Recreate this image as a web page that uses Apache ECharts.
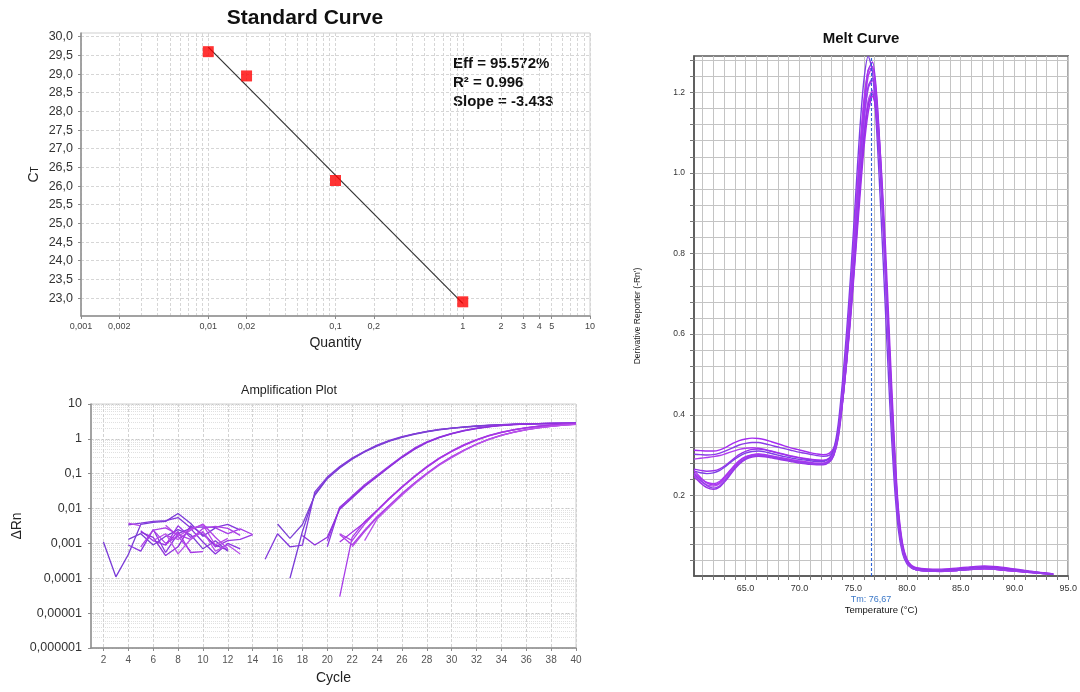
<!DOCTYPE html>
<html><head><meta charset="utf-8">
<script src="https://cdn.jsdelivr.net/npm/echarts@6/dist/echarts.min.js"></script>
<style>html,body{margin:0;padding:0;background:#fff}#c{width:1080px;height:692px}</style>
</head><body><div id="c"></div>
<script>
// ---------- Standard curve ----------
const stdQuantity = [0.01, 0.02, 0.1, 1];
const stdCt = [29.6, 28.95, 26.15, 22.9];
const fitQuantity = [0.01, 1];
const fitCt = [29.72, 22.86];
const stdXLabels = [0.001, 0.002, 0.01, 0.02, 0.1, 0.2, 1, 2, 3, 4, 5, 10];
const stdYLabels = [23, 23.5, 24, 24.5, 25, 25.5, 26, 26.5, 27, 27.5, 28, 28.5, 29, 29.5, 30];
const statsText = ['Eff = 95.572%', 'R\u00b2 = 0.996', 'Slope = -3.433'];

// ---------- Amplification plot ----------
const cycles = [2,3,4,5,6,7,8,9,10,11,12,13,14,15,16,17,18,19,20,21,22,23,24,25,26,27,28,29,30,31,32,33,34,35,36,37,38,39,40];
const ampA1 = [0.0011,0.00011,0.00048,0.0035,0.004,0.0043,0.0072,0.0038,0.0016,0.0028,null,null,null,null,null,
  0.0001,0.0022,0.026,0.075,0.15,0.27,0.43,0.64,0.88,1.13,1.38,1.62,1.84,2.02,2.18,2.32,2.44,2.54,2.62,2.68,2.73,2.76,2.78,2.8];
const ampA2 = [null,null,0.0034,0.0038,0.0043,0.0045,0.0055,0.0028,0.003,0.0029,0.0035,0.0024,null,0.00035,0.0019,
  0.0008,0.0009,0.03,0.08,0.16,0.28,0.44,0.66,0.9,1.15,1.4,1.64,1.86,2.04,2.2,2.34,2.46,2.56,2.63,2.69,2.74,2.77,2.79,2.81];
const ampA3 = [null,null,0.0013,0.0019,0.0009,0.0016,0.0025,0.0018,0.0007,0.0012,0.0006,null,null,null,0.0036,
  0.0014,0.0035,0.024,0.072,0.145,0.26,0.42,0.62,0.86,1.1,1.35,1.6,1.82,2.0,2.16,2.3,2.43,2.53,2.61,2.67,2.72,2.75,2.78,2.8];
const ampB1 = [null,null,0.0009,0.0006,0.0025,0.00055,0.0019,0.0027,0.0011,0.0005,0.001,0.0007,null,null,null,
  null,null,null,0.0008,0.011,0.022,0.045,0.085,0.16,0.3,0.52,0.8,1.1,1.42,1.72,2.0,2.25,2.44,2.58,2.67,2.73,2.77,2.8,2.82];
const ampB2 = [null,null,null,0.0023,0.0012,0.0009,0.0032,0.0015,0.0021,0.0008,0.0012,0.0013,0.0018,null,null,
  null,null,null,0.0012,0.0105,0.023,0.048,0.09,0.17,0.31,0.54,0.82,1.12,1.44,1.74,2.02,2.26,2.45,2.59,2.68,2.74,2.78,2.8,2.82];
const ampB3 = [null,null,null,0.0021,0.0015,0.00045,0.0008,0.0032,0.0018,0.0009,0.00065,null,null,null,null,
  null,0.0017,0.0009,0.0015,0.0095,0.02,0.043,0.082,0.155,0.29,0.5,0.78,1.08,1.4,1.7,1.98,2.22,2.42,2.56,2.66,2.72,2.76,2.79,2.81];
const ampC1 = [null,null,null,null,0.0024,0.001,0.0016,0.0006,null,0.0028,0.0019,0.0026,0.0018,null,null,
  null,null,null,null,0.00003,0.0015,0.0042,0.009,0.02,0.042,0.085,0.16,0.28,0.45,0.68,0.95,1.25,1.55,1.84,2.1,2.32,2.5,2.64,2.75];
const ampC2 = [null,null,null,null,null,0.0017,0.0013,0.0024,0.0036,0.0015,0.0007,null,null,null,null,
  null,null,null,null,0.0019,0.0012,0.0036,0.0085,0.019,0.04,0.08,0.15,0.27,0.43,0.65,0.92,1.22,1.52,1.8,2.06,2.29,2.48,2.62,2.74];
const ampC3 = [null,null,null,null,null,0.0009,0.0022,0.00055,0.00058,null,null,null,null,null,null,
  null,null,null,null,0.0011,0.0021,0.004,0.0088,0.0195,0.041,0.082,0.155,0.275,0.44,0.66,0.93,1.23,1.53,1.82,2.08,2.3,2.49,2.63,2.74];
const ampD1 = [null,null,0.0038,0.0032,null,0.0033,0.0016,0.0026,0.0034,0.0009,0.0014,null,null,null,null,
  null,null,null,null,null,0.0008,0.0022,0.0055,0.012,0.026,0.052,0.1,0.18,0.3,0.47,0.7,0.97,1.26,1.55,1.83,2.08,2.3,2.48,2.62];
const ampD2 = [null,null,null,0.0008,0.0024,0.0028,0.0018,0.0013,0.0027,0.0031,0.0027,0.0017,null,null,null,
  null,null,null,null,0.0018,0.0009,0.0024,0.0058,0.0125,0.027,0.054,0.103,0.185,0.31,0.48,0.71,0.98,1.27,1.56,1.84,2.09,2.31,2.49,2.63];
const ampD3 = [null,null,null,null,0.0012,0.0019,0.0005,0.0013,0.0022,0.0006,0.0009,0.0005,null,null,null,
  null,null,null,null,null,null,0.0012,0.005,0.011,0.024,0.05,0.097,0.175,0.29,0.46,0.69,0.96,1.25,1.54,1.82,2.07,2.29,2.47,2.61];
const ampXLabels = [2,4,6,8,10,12,14,16,18,20,22,24,26,28,30,32,34,36,38,40];
const ampYLabels = [0.000001, 0.00001, 0.0001, 0.001, 0.01, 0.1, 1, 10];

// ---------- Melt curve ----------
const meltTemp = [60.2,60.8,61.4,62.0,62.6,63.2,63.8,64.4,65.0,65.6,66.2,66.8,67.4,68.0,68.6,69.2,69.8,70.4,71.0,71.6,72.2,
  72.8,73.2,73.6,74.0,74.4,74.8,75.2,75.6,76.0,76.4,76.8,77.2,77.6,78.0,78.4,78.8,79.2,79.6,80.0,80.4,80.8,
  81.6,82.4,83.2,84.0,84.8,85.6,86.4,87.2,88.0,88.8,89.6,90.4,91.2,92.0,92.8,93.6];
const melt1 = [0.312,0.311,0.31,0.31,0.313,0.32,0.329,0.336,0.34,0.342,0.341,0.338,0.333,0.328,0.323,0.318,0.314,0.31,0.306,0.303,0.301,
  0.305,0.318,0.355,0.43,0.53,0.65,0.79,0.93,1.06,1.15,1.19,1.15,1.02,0.82,0.58,0.35,0.17,0.08,0.042,0.027,0.021,
  0.018,0.017,0.017,0.018,0.02,0.022,0.024,0.025,0.024,0.022,0.019,0.016,0.013,0.01,0.008,0.005];
const melt2 = [0.302,0.301,0.3,0.301,0.305,0.311,0.318,0.325,0.329,0.331,0.331,0.328,0.324,0.32,0.316,0.312,0.308,0.305,0.302,0.299,0.297,
  0.3,0.314,0.352,0.43,0.535,0.66,0.8,0.95,1.08,1.17,1.2,1.14,0.99,0.78,0.54,0.32,0.155,0.072,0.038,0.024,0.019,
  0.016,0.015,0.015,0.016,0.018,0.02,0.022,0.023,0.022,0.02,0.017,0.015,0.012,0.01,0.007,0.005];
const melt3 = [0.29,0.292,0.294,0.296,0.299,0.304,0.309,0.314,0.317,0.318,0.317,0.314,0.31,0.306,0.302,0.298,0.295,0.292,0.29,0.288,0.287,
  0.293,0.31,0.355,0.445,0.56,0.7,0.86,1.02,1.15,1.24,1.264,1.18,1.0,0.77,0.52,0.3,0.14,0.065,0.034,0.021,0.016,
  0.013,0.012,0.012,0.013,0.014,0.016,0.017,0.018,0.017,0.015,0.013,0.012,0.01,0.008,0.006,0.004];
const melt4 = [0.265,0.262,0.26,0.261,0.266,0.276,0.289,0.301,0.309,0.314,0.315,0.313,0.309,0.305,0.301,0.297,0.294,0.291,0.289,0.287,0.286,
  0.292,0.31,0.36,0.455,0.575,0.72,0.88,1.04,1.17,1.255,1.275,1.19,1.01,0.78,0.53,0.3,0.145,0.067,0.035,0.022,0.017,
  0.014,0.013,0.013,0.014,0.015,0.017,0.019,0.02,0.019,0.017,0.015,0.013,0.011,0.009,0.007,0.005];
const melt5 = [0.26,0.256,0.254,0.256,0.262,0.273,0.286,0.297,0.305,0.309,0.31,0.308,0.304,0.3,0.296,0.293,0.29,0.288,0.286,0.284,0.284,
  0.292,0.315,0.375,0.48,0.61,0.76,0.93,1.1,1.23,1.289,1.25,1.1,0.89,0.66,0.43,0.24,0.115,0.055,0.03,0.02,0.016,
  0.013,0.012,0.012,0.013,0.014,0.016,0.018,0.019,0.018,0.016,0.014,0.012,0.01,0.008,0.006,0.004];
const melt6 = [0.256,0.242,0.232,0.229,0.235,0.251,0.27,0.286,0.296,0.301,0.303,0.301,0.298,0.295,0.292,0.289,0.286,0.284,0.282,0.28,0.28,
  0.288,0.306,0.352,0.445,0.56,0.695,0.85,1.0,1.13,1.21,1.23,1.15,0.98,0.76,0.52,0.29,0.14,0.064,0.034,0.021,0.016,
  0.013,0.012,0.012,0.013,0.014,0.016,0.017,0.018,0.017,0.015,0.013,0.011,0.009,0.008,0.006,0.004];
const melt7 = [0.25,0.236,0.226,0.223,0.229,0.245,0.265,0.282,0.292,0.298,0.3,0.298,0.295,0.292,0.289,0.286,0.283,0.281,0.279,0.277,0.277,
  0.284,0.3,0.343,0.43,0.54,0.67,0.82,0.97,1.1,1.18,1.205,1.13,0.97,0.76,0.53,0.31,0.15,0.07,0.037,0.023,0.017,
  0.014,0.013,0.012,0.013,0.015,0.017,0.019,0.021,0.02,0.018,0.015,0.013,0.011,0.009,0.006,0.004];
const melt8 = [0.246,0.231,0.219,0.215,0.221,0.238,0.259,0.277,0.289,0.295,0.297,0.296,0.293,0.29,0.287,0.284,0.281,0.279,0.277,0.276,0.276,
  0.283,0.299,0.34,0.425,0.535,0.665,0.81,0.96,1.09,1.17,1.195,1.13,0.98,0.78,0.55,0.33,0.16,0.075,0.039,0.024,0.018,
  0.015,0.014,0.013,0.014,0.016,0.018,0.02,0.022,0.021,0.019,0.016,0.014,0.011,0.009,0.007,0.004];
const melt9 = [0.262,0.245,0.231,0.226,0.232,0.249,0.268,0.285,0.295,0.3,0.302,0.3,0.297,0.294,0.291,0.288,0.285,0.283,0.281,0.279,0.279,
  0.287,0.304,0.355,0.455,0.58,0.725,0.89,1.05,1.18,1.255,1.26,1.16,0.97,0.74,0.5,0.28,0.135,0.062,0.033,0.021,0.016,
  0.013,0.012,0.011,0.012,0.014,0.016,0.017,0.018,0.017,0.015,0.013,0.011,0.009,0.007,0.006,0.004];
const melt10 = [0.253,0.238,0.224,0.218,0.224,0.241,0.262,0.28,0.291,0.297,0.299,0.298,0.295,0.292,0.289,0.286,0.283,0.281,0.279,0.278,0.278,
  0.285,0.302,0.348,0.44,0.555,0.69,0.845,1.0,1.13,1.215,1.235,1.15,0.975,0.75,0.51,0.29,0.14,0.065,0.034,0.022,0.016,
  0.013,0.012,0.012,0.013,0.014,0.016,0.018,0.019,0.018,0.016,0.014,0.012,0.01,0.008,0.006,0.004];
const meltXLabels = [65, 70, 75, 80, 85, 90, 95];
const meltYLabels = [0.2, 0.4, 0.6, 0.8, 1.0, 1.2];
const tmValue = 76.67;
const tmLabel = 'Tm: 76,67';

// ---------- helpers for grid/tick positions ----------
function logMinor(fromExp, toExp) {
  const out = [];
  for (let e = fromExp; e < toExp; e++) for (let k = 1; k <= 9; k++) out.push(+(k * Math.pow(10, e)).toPrecision(6));
  out.push(+Math.pow(10, toExp).toPrecision(6));
  return out;
}
function stepList(a, b, s) { const o = []; for (let v = a; v <= b + 1e-9; v += s) o.push(+v.toFixed(4)); return o; }
const comma = v => String(+(+v).toPrecision(6)).replace('.', ',');

const FONT = "'Liberation Sans', Arial, sans-serif";
const ampColors = ['#7a3ad8','#8338dc','#7c40d4','#8a36e0','#9a3ae4','#8e30dc','#a83ce8','#b044e6','#a535e4','#b74ae8','#ad3fe6','#b952ea'];
const ampCurves = [ampA1, ampA2, ampA3, ampB1, ampB2, ampB3, ampC1, ampC2, ampC3, ampD1, ampD2, ampD3];
const meltColors = ['#a52cf0','#8b3ae8','#b03cf0','#9a30ec','#7e3fe6','#a83af2','#b548f0','#9b2fe8','#ac36ee','#9440ea'];
const meltCurves = [melt1, melt2, melt3, melt4, melt5, melt6, melt7, melt8, melt9, melt10];

const series = [];
series.push({ type: 'line', xAxisIndex: 0, yAxisIndex: 0, data: fitQuantity.map((q, i) => [q, fitCt[i]]),
  symbol: 'none', lineStyle: { color: '#333', width: 1.2 }, silent: true, z: 3 });
series.push({ type: 'scatter', xAxisIndex: 0, yAxisIndex: 0, data: stdQuantity.map((q, i) => [q, stdCt[i]]),
  symbol: 'rect', symbolSize: 11, itemStyle: { color: '#ff0000' }, z: 4 });
ampCurves.forEach((arr, k) => {
  series.push({ type: 'line', xAxisIndex: 2, yAxisIndex: 1, symbol: 'none', silent: true,
    data: cycles.map((c, i) => [c, arr[i] == null ? '-' : arr[i]]),
    lineStyle: { color: ampColors[k], width: 1.3 } });
});
meltCurves.forEach((arr, k) => {
  series.push({ type: 'line', xAxisIndex: 3, yAxisIndex: 3, symbol: 'none', silent: true, smooth: 0.25,
    data: meltTemp.map((t, i) => [t, arr[i]]), lineStyle: { color: meltColors[k], width: 1.4 } });
});
// Tm marker line on its own (empty) series, drawn above the curves
series.push({ type: 'line', xAxisIndex: 3, yAxisIndex: 3, data: [], symbol: 'none', silent: true, z: 10,
  markLine: { symbol: 'none', silent: true, animation: false, z: 10,
    lineStyle: { type: [3, 2], color: '#2f63d8', width: 1.1, opacity: 1 },
    emphasis: { disabled: true },
    label: { show: true, position: 'start', formatter: () => tmLabel, color: '#3b78c8', fontSize: 9, fontFamily: FONT, distance: 19 },
    data: [{ xAxis: tmValue }] } });

const option = {
  animation: false,
  backgroundColor: '#fff',
  grid: [
    { left: 81, top: 33, width: 509, height: 283, show: true, borderColor: '#cfcfcf', borderWidth: 1 },
    { left: 91, top: 404, width: 485, height: 244, show: true, borderColor: '#cfcfcf', borderWidth: 1 },
    { left: 694, top: 56, width: 377, height: 520, show: true, borderColor: '#5a5a5a', borderWidth: 1.5 }
  ],
  xAxis: [
    { type: 'log', gridIndex: 0, min: 0.001, max: 10, logBase: 10,
      axisLine: { show: true, lineStyle: { color: '#8c8c8c', width: 1.5 } },
      axisTick: { show: true, length: 3, customValues: stdXLabels, lineStyle: { color: '#8c8c8c' } },
      axisLabel: { customValues: stdXLabels, formatter: comma, fontSize: 9, color: '#444', fontFamily: FONT, margin: 6 },
      splitLine: { show: false },
      name: 'Quantity', nameLocation: 'middle', nameGap: 20, nameTextStyle: { fontSize: 14, color: '#222', fontFamily: FONT } },
    { type: 'log', gridIndex: 0, min: 0.001, max: 10, logBase: 10, position: 'top',
      axisLine: { show: false }, axisLabel: { show: false },
      axisTick: { show: false, customValues: logMinor(-3, 1) },
      splitLine: { show: true, lineStyle: { color: '#d6d6d6', type: [3, 2], width: 1 } } },
    { type: 'value', gridIndex: 1, min: 1, max: 40,
      axisLine: { show: true, lineStyle: { color: '#8c8c8c', width: 1.5 } },
      axisTick: { show: true, length: 3, customValues: ampXLabels, lineStyle: { color: '#8c8c8c' } },
      axisLabel: { customValues: ampXLabels, fontSize: 10, color: '#555', fontFamily: FONT, margin: 7 },
      splitLine: { show: true, lineStyle: { color: '#d2d2d2', type: [3, 2] } },
      name: 'Cycle', nameLocation: 'middle', nameGap: 23, nameTextStyle: { fontSize: 14, color: '#222', fontFamily: FONT } },
    { type: 'value', gridIndex: 2, min: 60.2, max: 95,
      axisLine: { show: true, lineStyle: { color: '#555', width: 1.5 } },
      axisTick: { show: true, length: 4, customValues: stepList(61, 95, 1), lineStyle: { color: '#777' } },
      axisLabel: { customValues: meltXLabels, formatter: v => (+v).toFixed(1), fontSize: 9, color: '#333', fontFamily: FONT, margin: 8 },
      splitLine: { show: true, lineStyle: { color: '#c4c4c4', width: 1 } },
      name: 'Temperature (\u00b0C)', nameLocation: 'middle', nameGap: 29, nameTextStyle: { fontSize: 9.5, color: '#111', fontFamily: FONT } }
  ],
  yAxis: [
    { type: 'value', gridIndex: 0, min: 22.52, max: 30.1,
      axisLine: { show: true, lineStyle: { color: '#8c8c8c', width: 1.5 } },
      axisTick: { show: true, length: 3, customValues: stdYLabels, lineStyle: { color: '#8c8c8c' } },
      axisLabel: { customValues: stdYLabels, formatter: v => (+v).toFixed(1).replace('.', ','), fontSize: 12.5, color: '#333', fontFamily: FONT, margin: 8 },
      splitLine: { show: true, lineStyle: { color: '#d6d6d6', type: [3, 2] } },
      name: 'C{t|T}', nameLocation: 'middle', nameGap: 40, nameRotate: 90,
      nameTextStyle: { fontSize: 14, color: '#222', fontFamily: FONT, rich: { t: { fontSize: 10, color: '#222', fontFamily: FONT, verticalAlign: 'bottom', padding: [0, 0, 1, 0] } } } },
    { type: 'log', gridIndex: 1, min: 0.000001, max: 10, logBase: 10,
      axisLine: { show: true, lineStyle: { color: '#8c8c8c', width: 1.5 } },
      axisTick: { show: true, length: 3, customValues: ampYLabels, lineStyle: { color: '#8c8c8c' } },
      axisLabel: { customValues: ampYLabels, formatter: comma, fontSize: 12.5, color: '#333', fontFamily: FONT, margin: 9 },
      splitLine: { show: true, lineStyle: { color: '#c8c8c8', type: [3, 2] } },
      name: '\u0394Rn', nameLocation: 'middle', nameGap: 67, nameRotate: 90, nameTextStyle: { fontSize: 14, color: '#222', fontFamily: FONT } },
    { type: 'log', gridIndex: 1, min: 0.000001, max: 10, logBase: 10, position: 'right',
      axisLine: { show: false }, axisLabel: { show: false },
      axisTick: { show: false, customValues: logMinor(-6, 1) },
      splitLine: { show: true, lineStyle: { color: '#e0e0e0', type: [1, 1] } } },
    { type: 'value', gridIndex: 2, min: 0, max: 1.29,
      axisLine: { show: true, lineStyle: { color: '#555', width: 1.5 } },
      axisTick: { show: true, length: 4, customValues: stepList(0.04, 1.28, 0.04), lineStyle: { color: '#777' } },
      axisLabel: { customValues: meltYLabels, formatter: v => (+v).toFixed(1), fontSize: 8.5, color: '#333', fontFamily: FONT, margin: 9 },
      splitLine: { show: true, lineStyle: { color: '#c4c4c4', width: 1 } },
      name: "Derivative Reporter (-Rn')", nameLocation: 'middle', nameGap: 52, nameRotate: 90, nameTextStyle: { fontSize: 8.5, color: '#222', fontFamily: FONT } }
  ],
  graphic: [
    { type: 'text', x: 305, y: 18, style: { text: 'Standard Curve', font: 'bold 21px ' + FONT, fill: '#111', align: 'center', verticalAlign: 'middle', textAlign: 'center', textVerticalAlign: 'middle' } },
    { type: 'text', x: 289, y: 391, style: { text: 'Amplification Plot', font: '12.5px ' + FONT, fill: '#222', align: 'center', verticalAlign: 'middle', textAlign: 'center', textVerticalAlign: 'middle' } },
    { type: 'text', x: 861, y: 39, style: { text: 'Melt Curve', font: 'bold 15px ' + FONT, fill: '#111', align: 'center', verticalAlign: 'middle', textAlign: 'center', textVerticalAlign: 'middle' } },
    { type: 'text', x: 453, y: 54, style: { text: statsText.join('\n'), font: 'bold 15px ' + FONT, lineHeight: 19, fill: '#111' } }
  ],
  series: series
};
const chart = echarts.init(document.getElementById('c'), null, { renderer: 'canvas' });
chart.setOption(option);
</script></body></html>
